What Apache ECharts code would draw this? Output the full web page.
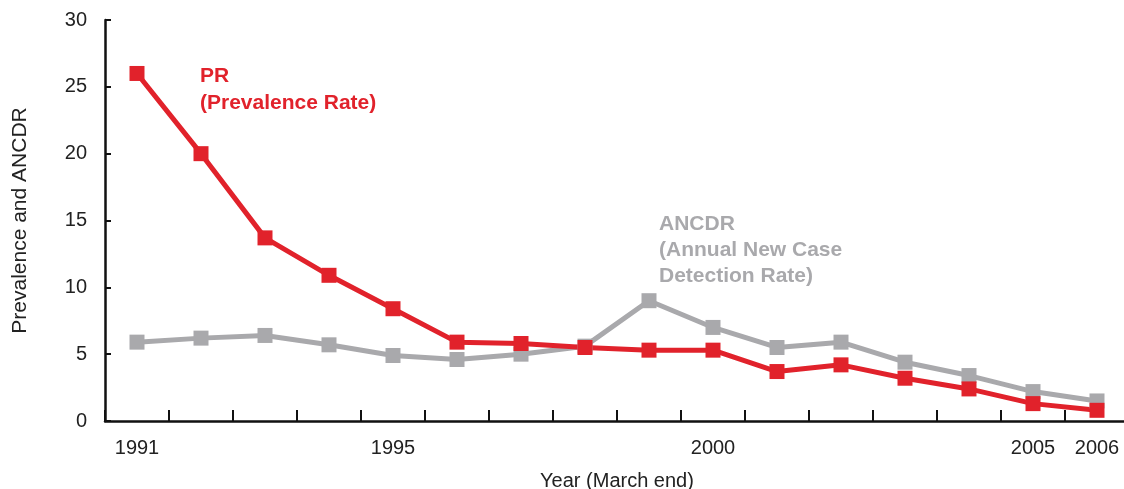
<!DOCTYPE html>
<html>
<head>
<meta charset="utf-8">
<script src="https://cdn.jsdelivr.net/npm/echarts@6/dist/echarts.min.js"></script>
<style>
  html, body { margin: 0; padding: 0; background: #fff; }
  #chart { width: 1124px; height: 489px; }
</style>
</head>
<body>
<div id="chart"></div>
<script>
const years = ['1991','1992','1993','1994','1995','1996','1997','1998','1999','2000','2001','2002','2003','2004','2005','2006'];
const prValues = [26.0, 20.0, 13.7, 10.9, 8.4, 5.9, 5.8, 5.5, 5.3, 5.3, 3.7, 4.2, 3.2, 2.4, 1.3, 0.8];
const ancdrValues = [5.9, 6.2, 6.4, 5.7, 4.9, 4.6, 5.0, 5.6, 9.0, 7.0, 5.5, 5.9, 4.4, 3.4, 2.2, 1.5];
const shownYears = ['1991','1995','2000','2005','2006'];

const RED = '#e1222b';
const GREY = '#a9a9ac';
const FONT = '"Liberation Sans", Arial, sans-serif';

const chart = echarts.init(document.getElementById('chart'));
chart.setOption({
  animation: false,
  grid: { left: 105, right: -5, top: 20, bottom: 68, outerBoundsMode: 'none', containLabel: false },
  xAxis: {
    type: 'category',
    data: years,
    boundaryGap: true,
    name: 'Year (March end)',
    nameLocation: 'middle',
    nameGap: 50,
    nameTextStyle: { fontFamily: FONT, fontSize: 20, color: '#222' },
    axisLine: { lineStyle: { color: '#111', width: 2.5 } },
    axisTick: { show: true, inside: true, length: 11, interval: 0, lineStyle: { color: '#111', width: 2 } },
    axisLabel: {
      interval: (i, v) => shownYears.includes(v),
      margin: 17,
      fontFamily: FONT, fontSize: 20, color: '#222'
    },
    splitLine: { show: false }
  },
  yAxis: {
    type: 'value',
    min: 0, max: 30, interval: 5,
    name: 'Prevalence and ANCDR',
    nameLocation: 'middle',
    nameGap: 74,
    nameTextStyle: { fontFamily: FONT, fontSize: 21, color: '#222' },
    axisLine: { show: true, lineStyle: { color: '#111', width: 2.5 } },
    axisTick: { show: true, inside: true, length: 6, lineStyle: { color: '#111', width: 2 } },
    axisLabel: { margin: 18, fontFamily: FONT, fontSize: 20, color: '#222' },
    splitLine: { show: false }
  },
  series: [
    {
      name: 'ANCDR',
      type: 'line',
      data: ancdrValues,
      symbol: 'rect',
      symbolSize: 15,
      lineStyle: { color: GREY, width: 5 },
      itemStyle: { color: GREY }
    },
    {
      name: 'PR',
      type: 'line',
      data: prValues,
      symbol: 'rect',
      symbolSize: 15,
      lineStyle: { color: RED, width: 5 },
      itemStyle: { color: RED }
    }
  ],
  graphic: [
    {
      type: 'text', left: 200, top: 63,
      style: { text: 'PR\n(Prevalence Rate)', fill: RED, font: 'bold 21px ' + FONT, lineHeight: 27 }
    },
    {
      type: 'text', left: 659, top: 211,
      style: { text: 'ANCDR\n(Annual New Case\nDetection Rate)', fill: GREY, font: 'bold 21px ' + FONT, lineHeight: 26 }
    }
  ]
});
</script>
</body>
</html>
